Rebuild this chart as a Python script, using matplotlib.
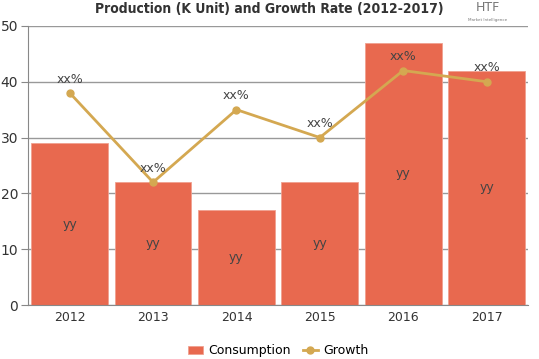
import matplotlib
matplotlib.use("Agg")
import matplotlib.pyplot as plt
import numpy as np

years = ["2012", "2013", "2014", "2015", "2016", "2017"]
consumption = [29, 22, 17, 22, 47, 42]
growth = [38, 22, 35, 30, 42, 40]
bar_labels = ["yy"] * 6
growth_labels = ["xx%"] * 6

bar_color = "#E8694F"
line_color = "#D4A851"
grid_color = "#999999"

fig = plt.figure(figsize=(5.39, 3.59), dpi=100)
ax = fig.add_axes([0.052, 0.150, 0.928, 0.778])

x = np.arange(len(years))
bars = ax.bar(x, consumption, width=0.92, color=bar_color, edgecolor="#F0A090",
              linewidth=0.6, label="Consumption", zorder=2)
line, = ax.plot(x, growth, color=line_color, marker="o", markersize=5, linewidth=2,
                label="Growth", zorder=3)

for xi, v, lab in zip(x, consumption, bar_labels):
    ax.text(xi, v / 2, lab, ha="center", va="center", fontsize=9, color="#444444", zorder=4)
for xi, v, lab in zip(x, growth, growth_labels):
    ax.text(xi, v + 1.3, lab, ha="center", va="bottom", fontsize=9, color="#444444", zorder=4)

ax.set_xlim(-0.5, len(years) - 0.5)
ax.set_ylim(0, 50)
ax.set_yticks([0, 10, 20, 30, 40, 50])
ax.set_xticks(x)
ax.set_xticklabels(years)
ax.yaxis.grid(True, color=grid_color, linewidth=1, zorder=0)
ax.set_axisbelow(True)
for s in ["top", "right"]:
    ax.spines[s].set_visible(False)
ax.spines["left"].set_color("#888888")
ax.spines["bottom"].set_color("#888888")
ax.tick_params(axis="y", length=5, color="#888888", labelsize=10, labelcolor="#333333", pad=2)
ax.tick_params(axis="x", length=0, labelsize=9, labelcolor="#333333", pad=4)

fig.text(0.5, 0.975, "Production (K Unit) and Growth Rate (2012-2017)", ha="center", va="center",
         fontsize=10, fontweight="heavy", fontstretch="condensed", color="#333333")
fig.text(0.905, 0.978, "HTF", ha="center", va="center", fontsize=9, color="#777777")
fig.text(0.905, 0.945, "Market Intelligence", ha="center", va="center", fontsize=3, color="#777777")

ax.legend([bars, line], ["Consumption", "Growth"], loc="upper center",
          bbox_to_anchor=(0.5, -0.1), ncol=2, frameon=False,
          fontsize=9, handlelength=1.2, columnspacing=1.0, handletextpad=0.4)

fig.savefig("out.png", dpi=100)
